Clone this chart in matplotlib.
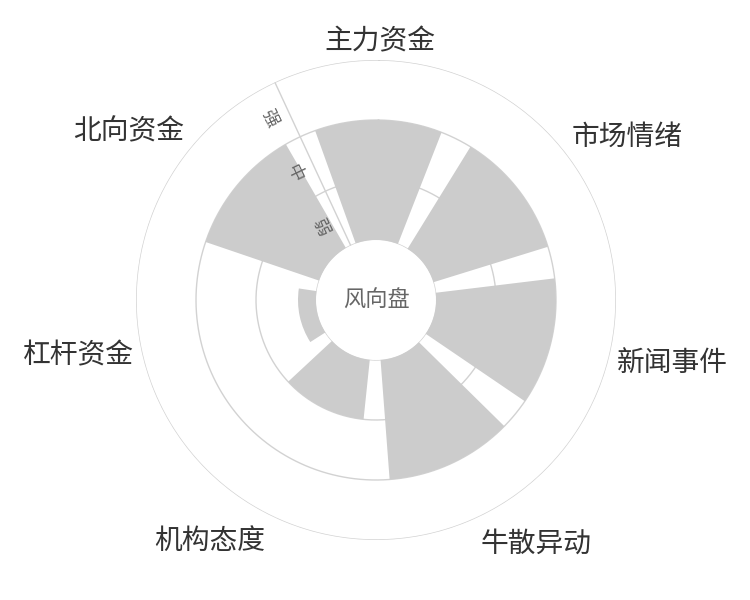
import numpy as np
import matplotlib
matplotlib.use('Agg')
import matplotlib.pyplot as plt
from matplotlib import transforms

plt.rcParams['font.family'] = ['Noto Sans CJK SC', 'DejaVu Sans']

# data (clockwise from top)
categories = ['主力资金', '市场情绪', '新闻事件', '牛散异动', '机构态度', '杠杆资金', '北向资金']
values = [2, 2, 2, 2, 1, 0.3, 2]
levels = ['弱', '中', '强']

n = len(categories)
step = 2 * np.pi / n
theta = np.arange(n) * step

fig = plt.figure(figsize=(7.5, 6), dpi=100)
ax = fig.add_axes([(376 - 240) / 750, (300 - 240) / 600, 480 / 750, 480 / 600], projection='polar')
ax.set_theta_zero_location('N', offset=-0.8)
ax.set_theta_direction(-1)
ax.set_ylim(0, 3)
ax.set_rorigin(-1)
ax.set_axis_off()

# split circles
tt = np.linspace(0, 2 * np.pi, 400)
for r in range(len(levels) + 1):
    ax.plot(tt, np.full_like(tt, r), color='#d2d2d2', lw=1, zorder=1)

ax.bar(theta, values, width=step * 0.8, bottom=0, color='#cccccc', zorder=2, linewidth=0)

# radius axis line + labels
ax_theta = -step / 2
ax.plot([ax_theta, ax_theta], [0, 3], color='#d2d2d2', lw=1, zorder=3)
off = transforms.offset_copy(ax.transData, fig=fig, x=-18, y=-9, units='dots')
for i, lv in enumerate(levels):
    ax.text(ax_theta, i + 0.5, lv, transform=off, rotation=np.degrees(-ax_theta) - 90,
            ha='center', va='center', fontsize=12.5, color='#666666',
            rotation_mode='anchor', zorder=4)

# category labels, echarts-like alignment
lab_off = transforms.offset_copy(ax.transData, fig=fig, x=0, y=-4, units='dots')
for t, lab in zip(theta, categories):
    a = np.pi / 2 - t
    c, s = np.cos(a), np.sin(a)
    ha = 'center' if abs(c) < 0.3 else ('left' if c > 0 else 'right')
    va = 'center' if abs(s) < 0.3 else ('bottom' if s > 0 else 'top')
    ax.text(t, 3 + 8 / 60, lab, transform=lab_off, ha=ha, va=va, fontsize=20, color='#333333')

ax.text(0, -1, '风向盘', ha='center', va='center', fontsize=16, color='#666666')

fig.savefig('out.png', dpi=100)
